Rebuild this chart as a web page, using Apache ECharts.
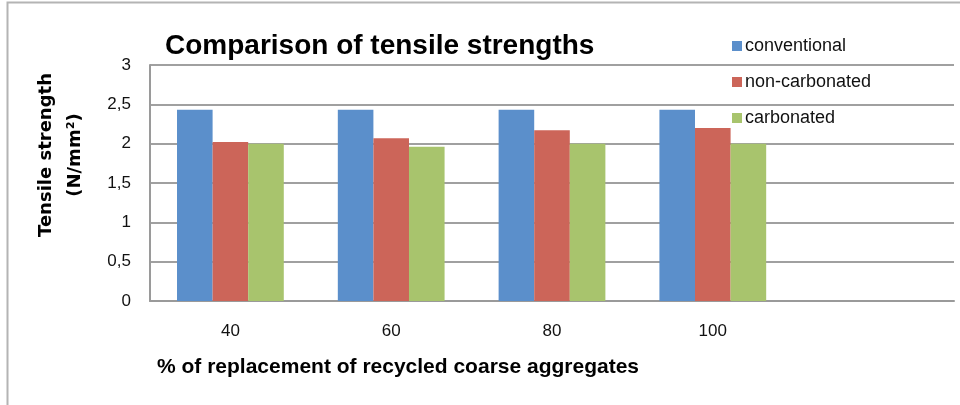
<!DOCTYPE html>
<html><head><meta charset="utf-8">
<script src="https://cdn.jsdelivr.net/npm/echarts@6/dist/echarts.min.js"></script>
<style>html,body{margin:0;padding:0;background:#fff}#c{width:960px;height:405px}</style>
</head><body><div id="c"></div>
<script>
const categories = ['40', '60', '80', '100', ''];
const conventional = [2.43, 2.43, 2.43, 2.43, null];
const nonCarbonated = [2.02, 2.07, 2.17, 2.2, null];
const carbonated = [2.0, 1.96, 2.0, 2.0, null];
const seriesNames = ['conventional', 'non-carbonated', 'carbonated'];
const titleText = 'Comparison of tensile strengths';
const yName = 'Tensile strength\n(N/mm²)';
const xName = '% of replacement of recycled coarse aggregates';

const colors = ['#5b8fcb', '#cc6559', '#a8c46d'];
const chart = echarts.init(document.getElementById('c'), null, {renderer: 'canvas'});
const mk = (name, data, i) => ({
  name, type: 'bar', data, barGap: '0%', barCategoryGap: '33.6%',
  itemStyle: {color: colors[i]}
});
chart.setOption({
  animation: false,
  title: {text: titleText, left: 160, top: 27,
    textStyle: {fontFamily: 'Liberation Sans', fontWeight: 'bold', fontSize: 28, color: '#000'}},
  legend: {orient: 'vertical', left: 727, top: 32, itemGap: 18, itemWidth: 10, itemHeight: 10,
    icon: 'rect', data: seriesNames,
    textStyle: {fontFamily: 'Liberation Sans', fontSize: 18, color: '#111', padding: [0,0,0,-2]}},
  grid: {left: 150, right: 6, top: 65, bottom: 104, containLabel: false},
  xAxis: {type: 'category', data: categories,
    axisLine: {show: true, lineStyle: {color: '#9a9a9a', width: 2}},
    axisTick: {show: false},
    axisLabel: {margin: 22, fontFamily: 'Liberation Sans', fontSize: 17, color: '#111'}},
  yAxis: {type: 'value', min: 0, max: 3, interval: 0.5,
    axisLine: {show: true, lineStyle: {color: '#9a9a9a', width: 2}},
    axisTick: {show: false},
    splitLine: {lineStyle: {color: '#a0a0a0', width: 2}},
    axisLabel: {margin: 19, fontFamily: 'Liberation Sans', fontSize: 17, color: '#111',
      formatter: v => String(v).replace('.', ',')}},
  graphic: [
    {type: 'polyline', shape: {points: [[7.5, 405], [7.5, 2.5], [960, 2.5]]},
     style: {stroke: '#b4b4b4', lineWidth: 2, fill: null}, silent: true},
    {type: 'text', x: 61, y: 155, rotation: Math.PI / 2,
     style: {text: yName, fontFamily: 'DejaVu Sans', fontWeight: 'bold', fontSize: 18,
       lineHeight: 29, fill: '#000', align: 'center', verticalAlign: 'middle'}},
    {type: 'text', x: 157, y: 367,
     style: {text: xName, fontFamily: 'Liberation Sans', fontWeight: 'bold', fontSize: 21,
       fill: '#000', align: 'left', verticalAlign: 'middle'}}
  ],
  series: [mk(seriesNames[0], conventional, 0), mk(seriesNames[1], nonCarbonated, 1), mk(seriesNames[2], carbonated, 2)]
});
</script></body></html>
